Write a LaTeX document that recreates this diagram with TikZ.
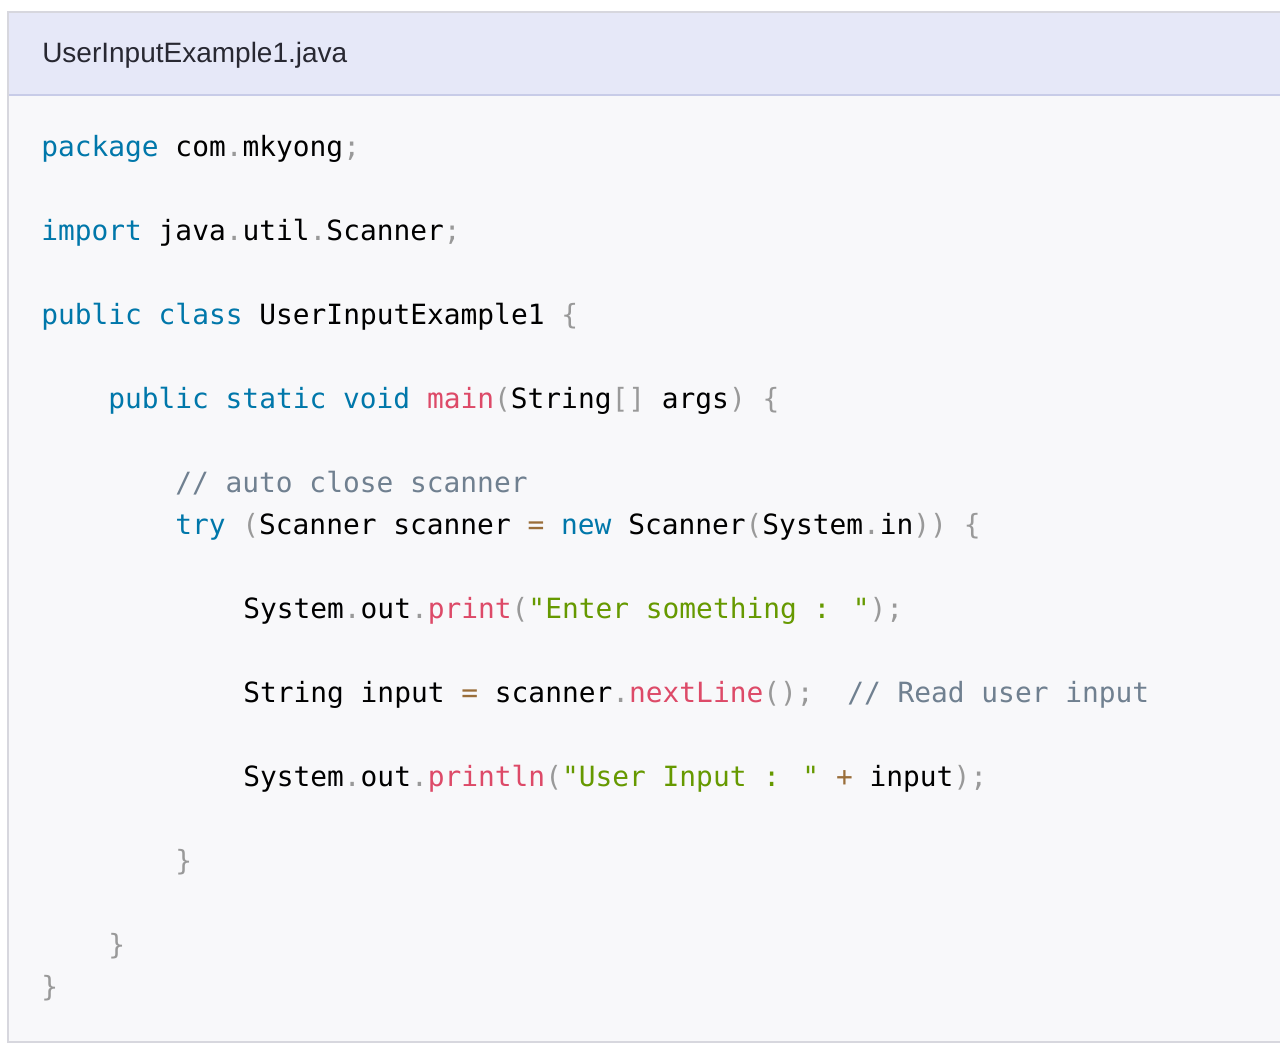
\documentclass[tikz,border=0pt]{standalone}
\usepackage{fontspec}
\setmainfont{Liberation Sans}
\newfontfamily\codefont{DejaVu Sans Mono}
\definecolor{kwblue}{RGB}{0,119,170}
\definecolor{strgreen}{RGB}{102,153,0}
\definecolor{fnred}{RGB}{221,74,104}
\definecolor{pungray}{RGB}{153,153,153}
\definecolor{cmslate}{RGB}{112,128,144}
\definecolor{opbrown}{RGB}{154,110,58}
\definecolor{codebg}{RGB}{248,248,250}
\definecolor{headbg}{RGB}{230,232,248}
\definecolor{headline}{RGB}{200,204,232}
\definecolor{boxline}{RGB}{215,215,222}
\newcommand{\kw}[1]{\textcolor{kwblue}{#1}}
\newcommand{\str}[1]{\textcolor{strgreen}{#1}}
\newcommand{\fn}[1]{\textcolor{fnred}{#1}}
\newcommand{\pu}[1]{\textcolor{pungray}{#1}}
\newcommand{\cm}[1]{\textcolor{cmslate}{#1}}
\newcommand{\op}[1]{\textcolor{opbrown}{#1}}
\tikzset{
  codeline/.style={anchor=base west, inner sep=0pt, text=black,
    font=\codefont\fontsize{20.9pt}{24pt}\selectfont},
  title/.style={anchor=west, inner sep=0pt, text={rgb,255:red,40;green,40;blue,50},
    font=\fontsize{21pt}{24pt}\selectfont}
}
\begin{document}
\begin{tikzpicture}[x=0.75pt,y=-0.75pt]
  \useasboundingbox (0,0) rectangle (1280,1054);
  % box and header
  \fill[codebg] (8,12) rectangle (1280,1042);
  \fill[headbg] (8,12) rectangle (1280,95);
  \draw[headline, line width=1pt] (8,95) -- (1280,95);
  \draw[boxline, line width=1.5pt] (1280,12) -- (8,12) -- (8,1042) -- (1280,1042);
  \node (head) [title] at (42,55) {UserInputExample1.java};
  % code lines
  \node (l1) [codeline] at (41,156) {\kw{package} com\pu{.}mkyong\pu{;}};
  \node (l2) [codeline] at (41,240) {\kw{import} java\pu{.}util\pu{.}Scanner\pu{;}};
  \node (l3) [codeline] at (41,324) {\kw{public} \kw{class} UserInputExample1 \pu{\{}};
  \node (l4) [codeline] at (108,408) {\kw{public} \kw{static} \kw{void} \fn{main}\pu{(}String\pu{[]} args\pu{)} \pu{\{}};
  \node (l5) [codeline] at (175,492) {\cm{// auto close scanner}};
  \node (l6) [codeline] at (175,534) {\kw{try} \pu{(}Scanner scanner \op{=} \kw{new} Scanner\pu{(}System\pu{.}in\pu{))} \pu{\{}};
  \node (l7) [codeline] at (243,618) {System\pu{.}out\pu{.}\fn{print}\pu{(}\str{"Enter something : "}\pu{);}};
  \node (l8) [codeline] at (243,702) {String input \op{=} scanner\pu{.}\fn{nextLine}\pu{();}\ \ \cm{// Read user input}};
  \node (l9) [codeline] at (243,786) {System\pu{.}out\pu{.}\fn{println}\pu{(}\str{"User Input : "} \op{+} input\pu{);}};
  \node (l10) [codeline] at (175,870) {\pu{\}}};
  \node (l11) [codeline] at (108,954) {\pu{\}}};
  \node (l12) [codeline] at (41,996) {\pu{\}}};
\end{tikzpicture}
\end{document}
